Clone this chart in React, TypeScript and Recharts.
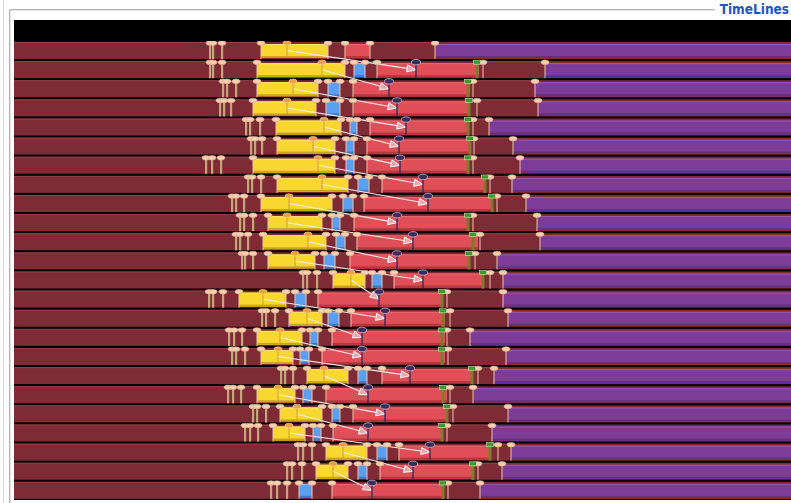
import React from "react";
import { Bar, ComposedChart, ReferenceLine, Scatter, XAxis, YAxis } from "recharts";

// one lane per thread, top to bottom
const rows = [
  "T01", "T02", "T03", "T04", "T05", "T06", "T07", "T08", "T09", "T10", "T11", "T12",
  "T13", "T14", "T15", "T16", "T17", "T18", "T19", "T20", "T21", "T22", "T23", "T24",
];

const leftPins = [
  [210, 213, 222], [210, 213, 222], [223, 227, 236], [220, 224, 231], [246, 250, 260], [251, 255, 262],
  [206, 212, 221], [248, 252, 261], [232, 236, 244], [240, 244, 253], [236, 240, 248], [242, 245, 253],
  [303, 307, 317], [209, 213, 223], [262, 266, 275], [229, 234, 242], [232, 236, 245], [281, 285, 293],
  [228, 233, 241], [253, 257, 266], [245, 250, 258], [298, 303, 312], [287, 292, 302], [271, 277, 287],
];

const yellowStart = [261, 257, 257, 253, 276, 277, 253, 277, 261, 268, 263, 268, 333, 239, 289, 257, 261, 307, 257, 280, 273, 326, 316, null];
const yellowEnd = [328, 345, 318, 316, 341, 335, 335, 348, 332, 322, 326, 315, 365, 286, 322, 302, 293, 348, 295, 322, 305, 367, 348, null];
const orangePin = [287, 322, 293, 287, 324, 313, 318, 322, 289, 287, 308, 295, 351, 263, 307, 280, 278, 324, 278, 297, 289, 343, 333, null];

const blueStart = [null, 354, 328, 326, 350, 346, 346, 358, 343, 332, 336, 324, 372, 295, 328, 310, 300, 358, 303, 332, 313, 377, 358, 299];
const blueEnd = [null, 365, 340, 340, 357, 354, 354, 369, 353, 340, 345, 335, 382, 306, 339, 318, 309, 367, 312, 340, 321, 387, 367, 312];

const redStart = [345, 377, 353, 353, 370, 367, 367, 382, 364, 354, 357, 350, 394, 318, 351, 332, 322, 382, 326, 353, 333, 399, 380, 332];
const redEnd = [370, 479, 470, 470, 469, 470, 469, 486, 493, 469, 478, 469, 483, 443, 445, 445, 445, 472, 447, 448, 443, 490, 473, 443];
const navyPin = [null, 416, 389, 397, 406, 399, 400, 423, 428, 397, 413, 397, 423, 379, 385, 362, 362, 410, 368, 385, 368, 430, 413, 372];
const greenMark = [null, 477, 468, 469, 468, 470, 468, 485, 492, 468, 473, 469, 483, 442, 443, 442, 442, 472, 443, 447, 442, 490, 473, 443];
const closePin = [370, 483, 473, 477, 473, 474, 473, 490, 497, 473, 480, 475, 490, 447, 450, 447, 448, 478, 450, 453, 447, 498, 478, 448];

const purpleStart = [435, 545, 535, 538, 489, 513, 520, 512, 526, 537, 540, 497, 503, 503, 508, 470, 506, 494, 473, 508, 492, 511, 502, 480];

const END = 791;

const table = rows.map((row, i) => {
  const ys = yellowStart[i] ?? blueStart[i] ?? redStart[i];
  const ye = yellowEnd[i] ?? ys;
  const bs = blueStart[i] ?? ye;
  const be = blueEnd[i] ?? bs;
  return {
    row,
    b0: ys,
    yel: ye - ys,
    b1: bs - ye,
    blu: be - bs,
    b2: redStart[i] - be,
    red: redEnd[i] - redStart[i],
    b3: purpleStart[i] - redEnd[i],
    pur: END - purpleStart[i],
  };
});

type Mark = { row: string; t: number; kind: string };

const pins: Mark[] = [];
const accents: Mark[] = [];
rows.forEach((row, i) => {
  leftPins[i].forEach((t) => pins.push({ row, t, kind: "stem" }));
  [yellowStart[i], yellowEnd[i], blueStart[i], blueEnd[i], redStart[i], closePin[i], purpleStart[i]].forEach((t) => {
    if (t != null) pins.push({ row, t, kind: "pin" });
  });
  if (orangePin[i] != null) accents.push({ row, t: orangePin[i] as number, kind: "orange" });
  if (greenMark[i] != null) accents.push({ row, t: greenMark[i] as number, kind: "green" });
  if (navyPin[i] != null) accents.push({ row, t: navyPin[i] as number, kind: "navy" });
});

// hand-offs: orange mark of one lane -> navy mark of the next lane
const links = rows.slice(0, -1).flatMap((row, i) =>
  orangePin[i] != null && navyPin[i + 1] != null
    ? [{ a: { x: orangePin[i] as number, y: row }, b: { x: navyPin[i + 1] as number, y: rows[i + 1] } }]
    : []
);

const base = (p: any) =>
  p.width > 0 ? (
    <g>
      <rect x={p.x} y={p.y} width={p.width} height={p.height} fill="#7e2b35" />
      <rect x={p.x} y={p.y} width={p.width} height={1} fill="#95404a" />
    </g>
  ) : (
    <g />
  );

const seg = (fill: string, top: string, shade: string) => (p: any) =>
  p.width > 0 ? (
    <g>
      <rect x={p.x} y={p.y} width={p.width} height={p.height} fill="#7e2b35" />
      <rect x={p.x} y={p.y + 2} width={p.width} height={p.height - 3} fill={fill} />
      <rect x={p.x} y={p.y + 2} width={p.width} height={1} fill={top} />
      <rect x={p.x} y={p.y + p.height - 3} width={p.width} height={2} fill={shade} />
    </g>
  ) : (
    <g />
  );

const PinShape = (p: any) => {
  const { cx, cy, payload } = p;
  const top = cy - 7.5;
  const bottom = cy + 8.5;
  switch (payload.kind) {
    case "stem":
      return (
        <g>
          <rect x={cx - 1} y={top} width={2.2} height={bottom - top} fill="#c4a67a" />
          <ellipse cx={cx} cy={top} rx={4} ry={2.3} fill="#f6d0b0" stroke="#dba486" strokeWidth={0.6} />
        </g>
      );
    case "orange":
      return (
        <g>
          <line x1={cx} y1={top} x2={cx} y2={bottom - 2} stroke="#d89838" strokeWidth={1} />
          <ellipse cx={cx} cy={top} rx={4} ry={2.3} fill="#f0a040" stroke="#f8d4a8" strokeWidth={0.6} />
        </g>
      );
    case "navy":
      return (
        <g>
          <line x1={cx} y1={top} x2={cx} y2={bottom} stroke="#3d2a55" strokeWidth={1.4} />
          <ellipse cx={cx} cy={top} rx={4.5} ry={2.7} fill="#3b2c5e" stroke="#d8c8e0" strokeWidth={0.7} />
        </g>
      );
    case "green":
      return (
        <g>
          <rect x={cx - 1.5} y={top} width={3} height={bottom - top} fill="#807b2c" />
          <rect x={cx - 3.5} y={top - 2} width={7} height={4} fill="#3a9a2e" stroke="#cfe8b8" strokeWidth={0.6} />
        </g>
      );
    default:
      return (
        <g>
          <line x1={cx} y1={top} x2={cx} y2={bottom} stroke="#f0c2ac" strokeWidth={1} />
          <ellipse cx={cx} cy={top} rx={4} ry={2.3} fill="#f6d0b0" stroke="#dba486" strokeWidth={0.6} />
        </g>
      );
  }
};

const Arrow = (p: any) => {
  const { x1, y1, x2, y2 } = p;
  const ang = Math.atan2(y2 - y1, x2 - x1);
  const len = 9;
  const half = 3.5;
  const bx = x2 - len * Math.cos(ang);
  const by = y2 - len * Math.sin(ang);
  const nx = -Math.sin(ang) * half;
  const ny = Math.cos(ang) * half;
  return (
    <g>
      <line x1={x1} y1={y1} x2={bx} y2={by} stroke="#f4eeee" strokeWidth={1.1} />
      <polygon
        points={`${x2},${y2} ${bx + nx},${by + ny} ${bx - nx},${by - ny}`}
        fill="#eaa6b0"
        stroke="#ffffff"
        strokeWidth={1}
      />
    </g>
  );
};

export default function App() {
  return (
    <div
      style={{
        position: "absolute",
        left: 0,
        top: 0,
        width: 791,
        height: 503,
        background: "#fff",
        overflow: "hidden",
      }}
    >
      <div style={{ position: "absolute", left: 3, top: 0, width: 1, height: 503, background: "#d6d6d6" }} />
      <div style={{ position: "absolute", left: 9, top: 9, width: 706, height: 1, background: "#b4b4b4" }} />
      <div style={{ position: "absolute", left: 9, top: 10, width: 706, height: 1, background: "#e4e4e4" }} />
      <div style={{ position: "absolute", left: 9, top: 9, width: 1, height: 494, background: "#b4b4b4" }} />
      <div style={{ position: "absolute", left: 10, top: 10, width: 1, height: 493, background: "#e4e4e4" }} />
      <div
        style={{
          position: "absolute",
          right: 2,
          top: 1,
          fontFamily: "'DejaVu Sans Condensed', 'DejaVu Sans', sans-serif",
          fontStretch: "condensed",
          fontWeight: "bold",
          fontSize: 13.5,
          color: "#1c55c4",
          lineHeight: "17px",
        }}
      >
        TimeLines
      </div>
      <div style={{ position: "absolute", left: 14, top: 20, width: 777, height: 21, background: "#000" }} />
      <div style={{ position: "absolute", left: 14, top: 41, width: 777, height: 459, background: "#000" }}>
        <ComposedChart
          width={777}
          height={459}
          data={table}
          layout="vertical"
          margin={{ top: 0, right: 0, bottom: 0, left: 0 }}
          barCategoryGap={1}
        >
          <XAxis type="number" dataKey="t" domain={[14, END]} allowDataOverflow hide />
          <YAxis type="category" dataKey="row" allowDuplicatedCategory={false} hide width={0} />
          <Bar dataKey="b0" stackId="lane" shape={base} isAnimationActive={false} />
          <Bar dataKey="yel" stackId="lane" shape={seg("#f8d830", "#fbe66a", "#c9a61c")} isAnimationActive={false} />
          <Bar dataKey="b1" stackId="lane" shape={base} isAnimationActive={false} />
          <Bar dataKey="blu" stackId="lane" shape={seg("#5a9ff0", "#86bbf6", "#3f78c8")} isAnimationActive={false} />
          <Bar dataKey="b2" stackId="lane" shape={base} isAnimationActive={false} />
          <Bar dataKey="red" stackId="lane" shape={seg("#e04f57", "#ea6a70", "#b9363f")} isAnimationActive={false} />
          <Bar dataKey="b3" stackId="lane" shape={base} isAnimationActive={false} />
          <Bar dataKey="pur" stackId="lane" shape={seg("#7d3c98", "#9a5ab4", "#65307e")} isAnimationActive={false} />
          {links.map((l, i) => (
            <ReferenceLine key={i} segment={[l.a, l.b]} shape={Arrow} ifOverflow="visible" />
          ))}
          <Scatter data={pins} dataKey="t" shape={PinShape} isAnimationActive={false} />
          <Scatter data={accents} dataKey="t" shape={PinShape} isAnimationActive={false} />
        </ComposedChart>
      </div>
    </div>
  );
}
